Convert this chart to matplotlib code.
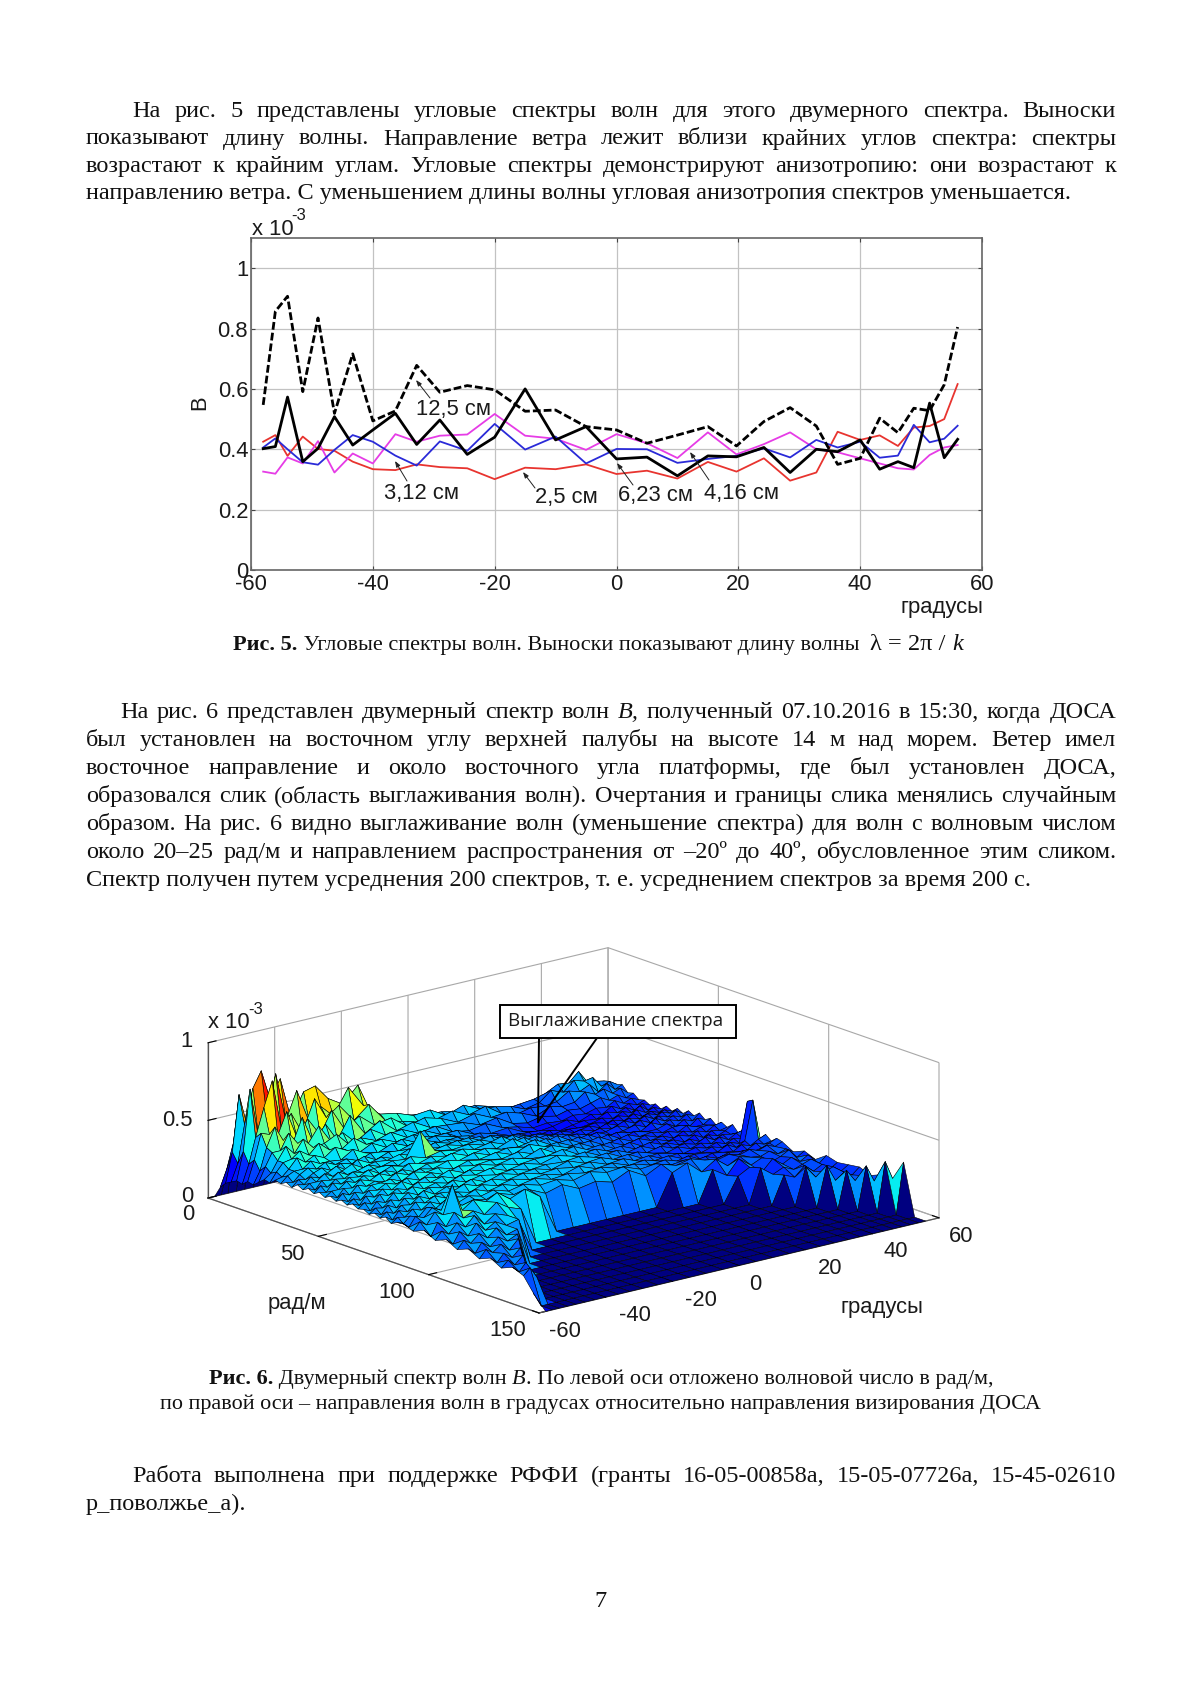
import numpy as np
import matplotlib
matplotlib.use('Agg')
import matplotlib.pyplot as plt
from matplotlib import cm
from matplotlib.lines import Line2D
from matplotlib.patches import Rectangle
from matplotlib.transforms import Affine2D
from mpl_toolkits.mplot3d import proj3d

W, H = 1200, 1697
SERIF = 'Liberation Serif'
SANS = 'Liberation Sans'
plt.rcParams['font.family'] = SANS
plt.rcParams['axes.unicode_minus'] = False
plt.rcParams['grid.color'] = '#a8a8a8'
plt.rcParams['grid.linewidth'] = 0.8

# ---------- Fig. 5 data ----------
angle_deg = [-58, -56, -54, -51.5, -49, -46.3, -43.3, -40, -36.3, -32.8, -29, -24.5, -20, -15, -10, -5,
             0, 5, 10, 15, 19.7, 24.2, 28.5, 32.8, 36.3, 40, 43.2, 46.2, 48.8, 51.4, 53.8, 56]
b_12_5 = [.547, .857, .907, .591, .835, .519, .716, .494, .527, .678, .589, .611, .597, .526, .530, .475,
          .464, .420, .447, .475, .411, .492, .538, .477, .350, .370, .503, .455, .536, .528, .614, .805]
b_6_23 = [.402, .409, .573, .359, .403, .508, .414, .464, .519, .416, .497, .383, .440, .600, .431, .475,
          .368, .374, .312, .378, .375, .406, .323, .400, .392, .431, .334, .359, .339, .553, .372, .433]
b_3_12 = [.406, .436, .400, .357, .349, .398, .447, .425, .379, .346, .426, .395, .484, .399, .442, .353,
          .401, .400, .355, .368, .378, .403, .373, .431, .406, .425, .372, .379, .481, .423, .435, .478]
b_2_5 = [.425, .447, .378, .442, .401, .395, .359, .334, .331, .350, .341, .337, .301, .339, .334, .350,
         .318, .329, .303, .358, .326, .370, .296, .323, .458, .431, .446, .411, .472, .477, .500, .616]
b_4_16 = [.326, .319, .373, .353, .427, .323, .386, .353, .450, .425, .445, .449, .517, .445, .435, .398,
          .450, .420, .371, .456, .383, .417, .456, .400, .390, .370, .353, .337, .333, .381, .406, .414]
x5_ticks = [-60, -40, -20, 0, 20, 40, 60]
y5_ticks = [0, 0.2, 0.4, 0.6, 0.8, 1]
y5_labels = ['0', '0.2', '0.4', '0.6', '0.8', '1']

# ---------- Fig. 6 data (hundredths of 1e-3), one row per wavenumber ----------
k_rad = [0, 2.5, 5, 7.5, 10, 12.5, 15, 17.5, 20, 22.5, 25, 27.5, 30, 32.5, 35, 37.5, 40, 42.5, 45, 47.5, 50,
         52.5, 55, 57.5, 60, 62.5, 65, 67.5, 70, 72.5, 75, 77.5, 80, 82.5, 85,
         90, 95, 100, 105, 110, 115, 120, 125, 130, 135, 140, 145, 150]
z_rows = [
    [0]*32,
    [7,18,34,30,40,36,30,33,28,31,26,26,24,19,17,15,16,13,14,12,13,10,11,10,11,12,13,15,14,12,11,10],
    [11,30,66,44,64,52,40,46,38,48,36,40,36,27,24,21,23,19,21,18,18,15,16,14,17,19,21,23,20,18,16,14],
    [13,24,48,70,80,60,72,44,60,62,52,46,56,31,28,29,27,26,24,25,22,18,19,20,22,26,25,31,23,22,21,17],
    [15,33,72,40,52,78,46,64,42,50,42,58,44,36,34,30,31,25,29,24,23,21,17,19,25,22,28,26,27,20,22,19],
    [14,26,42,60,76,44,52,38,58,44,50,38,46,33,30,27,26,29,24,27,20,17,19,18,19,24,22,25,19,23,18,20],
    [17,30,46,44,42,56,38,48,36,50,36,42,34,36,28,31,28,23,26,21,22,19,15,19,17,18,23,20,22,18,20,16],
    [16,24,38,50,40,36,52,34,44,32,46,32,38,29,32,26,25,24,20,22,16,14,16,14,16,15,17,19,16,18,15,17],
    [19,28,36,36,46,38,36,46,34,38,30,36,30,31,26,28,22,20,22,17,15,12,13,12,14,13,15,14,17,14,16,14],
    [22,25,32,40,34,42,35,36,40,32,34,30,33,27,29,24,24,19,17,18,13,11,12,14,11,14,12,16,13,15,13,15],
    [21,27,32,33,37,33,39,33,32,37,31,32,28,30,26,26,20,21,18,14,14,13,10,12,13,12,15,13,15,12,15,13],
    [24,25,29,35,31,34,31,36,32,29,33,28,31,26,28,25,23,18,16,17,12,14,12,11,12,14,12,15,13,16,12,15],
    [23,27,29,29,33,30,30,29,34,30,28,32,28,29,25,26,20,22,19,15,16,12,14,13,14,12,15,13,16,13,15,13],
    [25,24,28,31,29,32,29,31,28,31,30,28,31,27,28,25,25,19,21,18,14,16,13,15,12,15,13,16,13,15,13,16],
    [23,27,26,29,31,28,31,29,32,28,31,30,27,30,27,28,23,24,18,20,17,14,16,13,16,13,16,14,16,14,16,14],
    [26,25,29,27,29,32,28,33,29,31,28,32,30,28,30,26,28,22,23,18,19,16,14,16,14,17,14,17,14,17,15,17],
    [24,27,27,31,28,30,33,29,31,30,32,29,29,31,28,29,25,27,20,22,17,18,15,15,17,14,17,14,17,15,18,15],
    [26,24,29,28,32,29,30,32,29,31,30,46,31,29,30,27,30,23,25,19,21,16,18,14,15,17,14,18,15,17,15,18],
    [24,28,26,30,29,32,30,31,31,29,33,30,32,30,28,30,26,28,21,24,18,20,15,17,15,14,18,15,17,15,18,16],
    [26,25,30,28,31,30,33,29,32,30,29,32,30,32,29,27,31,24,26,20,22,17,19,14,17,15,15,17,14,17,15,19],
    [24,27,27,31,29,32,30,32,29,33,31,30,33,29,31,28,27,29,23,24,19,21,16,18,15,16,14,16,16,14,18,16],
    [26,24,29,28,32,30,33,30,32,29,32,31,29,32,28,30,28,25,26,21,22,17,19,15,17,14,16,14,17,15,15,18],
    [24,28,26,31,29,31,29,33,30,32,30,33,31,29,31,27,31,27,23,24,19,20,16,18,15,16,13,16,14,16,16,15],
    [26,24,29,27,31,31,32,29,33,31,32,29,32,30,28,30,26,29,25,21,22,17,19,14,17,14,16,14,16,14,17,18],
    [24,27,25,30,29,32,30,32,29,32,29,32,30,31,29,27,31,25,27,22,19,20,16,18,15,16,13,16,13,16,15,16],
    [26,24,29,27,31,29,33,29,32,30,33,29,32,29,31,28,27,29,23,24,20,17,19,15,17,14,16,13,16,14,16,19],
    [24,27,25,30,28,31,29,32,30,32,29,32,29,31,28,29,29,25,26,21,22,18,16,18,15,16,14,17,14,16,15,15],
    [25,23,28,26,31,29,32,29,31,29,32,30,32,28,30,27,30,27,23,24,19,20,17,15,17,14,16,14,17,14,17,18],
    [23,26,25,29,27,31,28,31,29,32,29,31,29,30,27,28,27,28,25,21,22,17,18,16,14,16,14,16,14,16,15,16],
    [25,23,28,25,30,28,32,28,31,29,32,28,31,28,29,26,29,25,26,22,19,20,16,17,15,14,16,14,16,14,40,19],
    [23,26,24,28,27,31,28,30,29,32,29,31,28,30,27,28,26,27,23,24,20,18,19,15,16,15,14,17,14,17,42,16],
    [25,22,27,25,30,28,31,28,30,28,31,28,30,27,28,25,28,24,25,21,22,19,16,18,14,16,15,14,17,15,18,20],
    [22,25,24,28,26,30,27,30,28,31,28,30,27,29,26,27,25,26,23,23,20,21,18,16,17,14,16,15,15,18,16,17],
    [24,22,26,24,29,27,31,27,30,28,30,27,29,26,27,24,27,24,25,21,22,19,20,17,15,17,14,17,15,16,18,20],
    [25,21,27,25,30,27,32,27,29,27,29,26,27,22,25,20,22,19,24,18,23,20,22,19,17,19,17,19,17,19,17,19],
    [22,27,24,31,28,46,28,33,30,34,28,32,25,*[0]*7,20,24,16,22,16,20,18,17,19,16,18,15],
    [25,20,28,24,32,27,30,26,32,27,24,*[0]*11,20,14,23,17,20,16,18,21,15,18],
    [21,26,23,29,25,31,24,29,26,20,*[0]*13,16,20,15,22,17,20,16,19,15],
    [24,20,27,23,30,24,28,24,26,*[0]*15,22,16,19,16,18,20,16,20],
    [20,25,22,27,23,28,22,24,*[0]*17,18,15,21,16,19,15,18],
    [23,19,25,21,26,22,25,*[0]*19,24,16,18,20,16,19],
    [19,24,21,25,20,26,*[0]*21,26,15,19,16,20],
    [22,18,23,19,24,*[0]*23,24,16,18,17],
    [18,22,18,23,*[0]*25,28,17,20],
    [21,17,22,*[0]*27,32,20],
    [18,22,15,*[0]*28,33],
    [8,*[0]*31],
    [0]*32,
]
k_ticks = [0, 50, 100, 150]
a_ticks = [-60, -40, -20, 0, 20, 40, 60]
z_ticks = [0, 0.5, 1]
z_labels = ['0', '0.5', '1']

# ---------- page text ----------
para1 = [
    (132, 117.0, True, 'На рис. 5 представлены угловые спектры волн для этого двумерного спектра. Выноски'),
    (86, 144.5, True, 'показывают длину волны. Направление ветра лежит вблизи крайних углов спектра: спектры'),
    (86, 172.0, True, 'возрастают к крайним углам. Угловые спектры демонстрируют анизотропию: они возрастают к'),
    (86, 198.5, False, 'направлению ветра. С уменьшением длины волны угловая анизотропия спектров уменьшается.'),
]
para2 = [
    (120, 718.5, True, 'На рис. 6 представлен двумерный спектр волн *B, полученный 07.10.2016 в 15:30, когда ДОСА'),
    (86, 746.4, True, 'был установлен на восточном углу верхней палубы на высоте 14 м над морем. Ветер имел'),
    (86, 774.2, True, 'восточное направление и около восточного угла платформы, где был установлен ДОСА,'),
    (86, 802.1, True, 'образовался слик (область выглаживания волн). Очертания и границы слика менялись случайным'),
    (86, 829.9, True, 'образом. На рис. 6 видно выглаживание волн (уменьшение спектра) для волн с волновым числом'),
    (86, 857.8, True, 'около 20–25 рад/м и направлением распространения от –20º до 40º, обусловленное этим сликом.'),
    (86, 885.6, False, 'Спектр получен путем усреднения 200 спектров, т. е. усреднением спектров за время 200 с.'),
]
para3 = [
    (132, 1482.0, True, 'Работа выполнена при поддержке РФФИ (гранты 16-05-00858а, 15-05-07726а, 15-45-02610'),
    (86, 1510.0, False, 'р_поволжье_а).'),
]
CAP = 16.05
cap5 = [('Рис. 5.', 'bold', 'normal', CAP), (' Угловые спектры волн. Выноски показывают длину волны  ', 'normal', 'normal', CAP),
        ('λ = 2π / ', 'normal', 'normal', 17.6), ('k', 'normal', 'italic', 17.6)]
cap6a = [('Рис. 6.', 'bold', 'normal', CAP), (' Двумерный спектр волн ', 'normal', 'normal', CAP), ('B', 'normal', 'italic', CAP),
         ('. По левой оси отложено волновой число в рад/м,', 'normal', 'normal', CAP)]
cap6b = [('по правой оси – направления волн в градусах относительно направления визирования ДОСА', 'normal', 'normal', 15.98)]

fig = plt.figure(figsize=(W / 100, H / 100), dpi=100, facecolor='white')
renderer = fig.canvas.get_renderer()
BODY = 17.5
RIGHT = 1116


def put(x, y, s, size=BODY, weight='normal', style='normal', family=SERIF, **kw):
    return fig.text(x / W, 1 - y / H, s, fontsize=size, fontweight=weight, fontstyle=style,
                    family=family, va=kw.pop('va', 'baseline'), color=kw.pop('color', '#111111'), **kw)


def width(t):
    return t.get_window_extent(renderer).width


def body_line(x0, y, justify, line):
    if not justify and '*' not in line:
        put(x0, y, line)
        return
    texts = []
    for w in line.split(' '):
        it = w.startswith('*')
        texts.append(put(x0, y, w.lstrip('*'), style='italic' if it else 'normal'))
    ws = [width(t) for t in texts]
    gap = (RIGHT - x0 - sum(ws)) / (len(ws) - 1)
    x = x0
    for t, w in zip(texts, ws):
        t.set_x(x / W)
        x += w + gap


def runs(cx, y, parts):
    texts = [put(0, y, p[0], size=p[3], weight=p[1], style=p[2]) for p in parts]
    ws = [width(t) for t in texts]
    x = cx - sum(ws) / 2
    for t, w in zip(texts, ws):
        t.set_x(x / W)
        x += w


for p in (para1, para2, para3):
    for ln in p:
        body_line(*ln)
runs(598, 650, cap5)
runs(601, 1384, cap6a)
runs(600, 1409, cap6b)
put(600, 1607, '7', ha='center')

# ---------- Fig. 5 ----------
FS = 15.8
L5, T5, R5, B5 = 251, 238, 982, 570
ax = fig.add_axes([L5 / W, 1 - B5 / H, (R5 - L5) / W, (B5 - T5) / H])
ax.set_xlim(-60, 60)
ax.set_ylim(0, 1.1)
ax.set_xticks(x5_ticks)
ax.set_yticks(y5_ticks, y5_labels)
ax.grid(True, color='#c2c2c2', lw=0.9)
ax.set_axisbelow(True)
ax.tick_params(direction='in', length=3, top=True, right=True, labelsize=FS, color='#444444',
               pad=3, width=0.8, labelcolor='#1a1a1a')
ax.tick_params(axis='y', pad=2)
for s in ax.spines.values():
    s.set_color('#666666')
    s.set_linewidth(1.2)
ax.plot(angle_deg, b_2_5, color='#e8342f', lw=1.3)
ax.plot(angle_deg, b_4_16, color='#e63ce6', lw=1.3)
ax.plot(angle_deg, b_3_12, color='#2a2ad8', lw=1.3)
ax.plot(angle_deg, b_12_5, color='black', lw=2.0, dashes=(2.8, 1.1))
ax.plot(angle_deg, b_6_23, color='black', lw=2.0)


def sans(x, y, s, size=FS, **kw):
    return fig.text(x / W, 1 - y / H, s, fontsize=size, family=SANS, color='#1a1a1a',
                    ha=kw.pop('ha', 'center'), va=kw.pop('va', 'center'), **kw)


def p2d(px, py):
    return (px - L5) / (R5 - L5) * 120 - 60, (B5 - py) / (B5 - T5) * 1.1


callouts = [('12,5 см', (453, 409), (430, 398), (416, 380)),
            ('3,12 см', (422, 494), (407, 481), (395, 461)),
            ('2,5 см', (566, 497), (535, 488), (523, 472)),
            ('6,23 см', (656, 495), (633, 485), (617, 463)),
            ('4,16 см', (742, 493), (709, 480), (690, 452))]
for label, c, tail, tip in callouts:
    ax.annotate('', xy=p2d(*tip), xytext=p2d(*tail),
                arrowprops=dict(arrowstyle='-|>,head_length=0.35,head_width=0.13', color='#222222', lw=0.7,
                                shrinkA=0, shrinkB=0))
    ax.text(*p2d(*c), label, fontsize=FS, ha='center', va='center', color='#1a1a1a')

sans(252, 235, 'x 10', ha='left', va='baseline')
sans(299, 216, '-3', size=12)
sans(200, 403, 'B', rotation=90)
sans(942, 607, 'градусы')

# ---------- Fig. 6 ----------
K, A = np.meshgrid(np.array(k_rad, float), np.array(angle_deg, float), indexing='ij')
Z = np.array(z_rows, float) / 100.0
ZMAX = 0.9
PL, PF, PR = (208, 1198), (539, 1313), (939, 1218)  # floor corners on the page, px

ax3 = fig.add_axes([0.2, 0.1, 0.6, 0.6 * W / H], projection='3d', proj_type='ortho', facecolor='none')
ax3.view_init(elev=16.7, azim=-39.6)
ax3.set_box_aspect((519, 519, 162))
ax3.set_xlim(0, 150)
ax3.set_ylim(-60, 60)
ax3.set_zlim(0, 1)
ax3.set_xticks(k_ticks)
ax3.set_yticks(a_ticks)
ax3.set_zticks(z_ticks, z_labels)
ax3.tick_params(labelsize=FS, labelcolor='#1a1a1a', pad=7)
for axis in (ax3.xaxis, ax3.yaxis, ax3.zaxis):
    axis.set_pane_color((1, 1, 1, 0))
    axis.pane.set_edgecolor('#808080')
    axis.pane.set_linewidth(0.9)
    axis.line.set_color('#555555')
    axis.line.set_linewidth(0.9)
    axis._axinfo['tick']['inward_factor'] = 0.0
    axis._axinfo['tick']['outward_factor'] = 0.25
ax3.zaxis.set_ticks_position('lower')

surf = ax3.plot_surface(K, A, Z, rstride=1, cstride=1, facecolors=cm.jet(np.clip(Z / ZMAX, 0, 1)), shade=False)
surf.set_edgecolor('black')
surf.set_linewidth(0.4)


def screen(a3, x, y, z):
    px, py, _ = proj3d.proj_transform(x, y, z, a3.get_proj())
    return a3.transData.transform((px, py))


for _ in range(3):  # scale and shift the square 3D axes so the floor corners land on the page targets
    fig.canvas.draw()
    a = screen(ax3, 0, -60, 0)
    b = screen(ax3, 150, 60, 0)
    scale = (PR[0] - PL[0]) / (b[0] - a[0])
    pos = ax3.get_position()
    nw, nh = pos.width * scale, pos.height * scale
    ax3.set_position([pos.x0, pos.y0, nw, nh])
    fig.canvas.draw()
    a = screen(ax3, 0, -60, 0)
    pos = ax3.get_position()
    ax3.set_position([pos.x0 + (PL[0] - a[0]) / W, pos.y0 + ((H - PL[1]) - a[1]) / H, pos.width, pos.height])


def nudge(axis, offsets):
    # fine offsets of the 3D tick labels, in page pixels (right, up); mplot3d resets label
    # transforms whenever it fetches its ticks, so they are re-applied there
    original = axis.get_major_ticks

    def patched(numticks=None):
        ticks = original(numticks)
        for t, (dx, dy) in zip(ticks, offsets):
            t.label1.set_transform(ax3.transData + Affine2D().translate(dx * 1.085, dy * 1.085))
        return ticks

    axis.get_major_ticks = patched


for lab in ax3.get_zticklabels():
    lab.set_ha('right')
nudge(ax3.xaxis, [(2, 7), (-4, 6), (-9, 6), (-9, 6)])
nudge(ax3.yaxis, [(7, 6), (10, 6), (10, 6), (-2, 6), (6, 6), (5, 7), (4, 6)])
nudge(ax3.zaxis, [(23, 10), (23, 9), (23, 10)])

sans(297, 1303, 'рад/м')
sans(882, 1308, 'градусы')
sans(208, 1022, 'x 10', ha='left')
sans(256, 1010, '-3', size=12)

# call-out
box = (500, 1005, 736, 1038)
fig.add_artist(Line2D([539 / W, 538 / W], [1 - 1038 / H, 1 - 1122 / H], color='black', lw=1.4, zorder=5))
fig.add_artist(Line2D([597 / W, 538 / W], [1 - 1038 / H, 1 - 1122 / H], color='black', lw=1.4, zorder=5))
fig.add_artist(Rectangle((box[0] / W, 1 - box[3] / H), (box[2] - box[0]) / W, (box[3] - box[1]) / H,
                         transform=fig.transFigure, facecolor='white', edgecolor='black', lw=1.4, zorder=6))
fig.text(616 / W, 1 - 1021 / H, 'Выглаживание спектра', fontsize=13.6, family='Open Sans', ha='center', va='center',
         color='#1a1a1a', zorder=7)

fig.savefig('out.png', dpi=100)
